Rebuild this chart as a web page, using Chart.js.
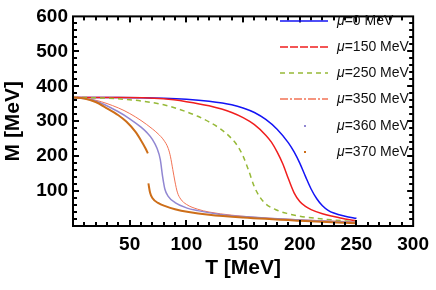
<!DOCTYPE html>
<html>
<head>
<meta charset="utf-8">
<script src="https://cdn.jsdelivr.net/npm/chart.js@4.4.1/dist/chart.umd.min.js"></script>
<style>
  html, body { margin: 0; padding: 0; background: #fff; }
  #wrap { width: 436px; height: 290px; }
</style>
</head>
<body>
<div id="wrap"><canvas id="massChart"></canvas></div>
<script>
// chemical potential labels
const muLabels = ['=0 MeV', '=150 MeV', '=250 MeV', '=350 MeV', '=360 MeV', '=370 MeV'];

// T [MeV] / M [MeV]
const tMu0 = [0, 40, 80, 100, 120, 140, 150, 160, 170, 180, 190, 195, 200, 205, 210, 215, 220, 225, 230, 240, 250];
const mMu0 = [368, 368, 366, 363, 357, 347, 338, 325, 305, 277, 238, 212, 180, 142, 106, 78, 58, 45, 37, 28, 22];

const tMu150 = [0, 40, 80, 100, 120, 140, 150, 160, 170, 175, 180, 185, 190, 195, 200, 205, 210, 220, 230, 240, 250];
const mMu150 = [368, 368, 364, 356, 344, 325, 310, 290, 260, 240, 212, 178, 135, 95, 70, 56, 47, 35, 27, 20, 15];

const tMu250 = [0, 20, 40, 60, 80, 100, 110, 120, 130, 140, 145, 150, 155, 160, 165, 170, 180, 190, 200, 220, 250];
const mMu250 = [368, 367, 364, 358, 347, 327, 314, 298, 278, 250, 230, 200, 158, 112, 82, 63, 45, 35, 28, 20, 12];

const tMu350 = [0, 20, 40, 50, 60, 70, 75, 80, 84, 86, 88, 90, 92, 95, 100, 110, 120, 140, 160, 180, 200, 220, 250];
const mMu350 = [368, 360, 338, 322, 302, 278, 264, 246, 222, 198, 162, 126, 97, 77, 62, 48, 40, 31, 25, 21, 18, 15, 12];

const tMu360 = [0, 20, 40, 50, 60, 65, 70, 74, 77, 79, 81, 84, 90, 100, 110, 130, 150, 200, 250];
const mMu360 = [368, 358, 327, 307, 283, 268, 248, 223, 190, 142, 106, 85, 67, 52, 44, 33, 27, 17, 10];

// jump at T ~ 66 (null = break in the line)
const tMu370 = [0, 10, 20, 30, 40, 47, 55, 60, 64, 66, 66.2, 66.5, 68, 70, 75, 82, 90, 102, 120, 150, 200, 250];
const mMu370 = [368, 365, 355, 337, 317, 299, 270, 245, 222, 208, null, 122, 95, 80, 66, 56, 48, 40, 32, 24, 15, 8];

const xTicks = [50, 100, 150, 200, 250, 300];
const yTicks = [100, 200, 300, 400, 500, 600];

const colors = ['rgb(20,20,245)', 'rgb(240,30,30)', 'rgb(150,185,55)', 'rgb(242,115,85)', 'rgb(145,135,210)', 'rgb(205,110,25)'];
const widths = [1.5, 1.5, 1.5, 1, 1.5, 2];
const dashes = [[], [], [5, 4], [], [], []];
const legendDashes = [[], [8, 2], [5, 4], [8, 2, 2, 2], null, null];

const toPoints = (ts, ms) => ts.map((t, i) => ({ x: t, y: ms[i] }));
const series = [
    toPoints(tMu0, mMu0), toPoints(tMu150, mMu150), toPoints(tMu250, mMu250),
    toPoints(tMu350, mMu350), toPoints(tMu360, mMu360), toPoints(tMu370, mMu370)
];

const fontFam = '"Liberation Sans", Arial, sans-serif';

const framePlugin = {
    id: 'frame',
    afterDraw(chart) {
        const ctx = chart.ctx;
        const a = chart.chartArea;
        const xs = chart.scales.x, ys = chart.scales.y;
        ctx.save();
        ctx.fillStyle = '#000';
        // ticks inside the frame, all four sides
        for (let v = 10; v < 300; v += 10) {
            const px = Math.round(xs.getPixelForValue(v)) - 1;
            const len = v % 50 === 0 ? 6 : 4;
            ctx.fillRect(px, a.bottom - len, 2, len);
            ctx.fillRect(px, a.top, 2, len);
        }
        for (let v = 20; v < 600; v += 20) {
            const py = Math.round(ys.getPixelForValue(v)) - 1;
            const len = v % 100 === 0 ? 6 : 4;
            ctx.fillRect(a.left, py, len, 2);
            ctx.fillRect(a.right - len, py, len, 2);
        }
        ctx.strokeStyle = '#000';
        ctx.setLineDash([]);
        ctx.lineWidth = 2;
        ctx.strokeRect(a.left, a.top, a.right - a.left, a.bottom - a.top);

        // legend
        const rowY = [21, 47, 73, 99, 126, 152];
        muLabels.forEach((lab, i) => {
            const y = rowY[i];
            ctx.strokeStyle = colors[i];
            ctx.fillStyle = colors[i];
            if (legendDashes[i]) {
                ctx.lineWidth = i < 2 ? 1.5 : 1.3;
                ctx.setLineDash(legendDashes[i]);
                ctx.beginPath();
                ctx.moveTo(280, y);
                ctx.lineTo(328, y);
                ctx.stroke();
                ctx.setLineDash([]);
            } else {
                ctx.fillRect(304, y - 1, 2, 2);
            }
            ctx.fillStyle = '#111';
            ctx.textBaseline = 'middle';
            ctx.textAlign = 'left';
            ctx.font = 'italic 14px ' + fontFam;
            ctx.fillText('\u03bc', 337, y);
            const w = ctx.measureText('\u03bc').width;
            ctx.font = '14px ' + fontFam;
            ctx.fillText(lab, 337 + w, y);
        });
        ctx.restore();
    }
};

new Chart(document.getElementById('massChart').getContext('2d'), {
    type: 'line',
    data: {
        datasets: series.map((pts, i) => ({
            label: muLabels[i],
            data: pts,
            borderColor: colors[i],
            borderWidth: widths[i],
            borderDash: dashes[i],
            pointRadius: 0,
            fill: false,
            spanGaps: false,
            cubicInterpolationMode: 'monotone'
        })).reverse()
    },
    options: {
        responsive: true,
        maintainAspectRatio: false,
        animation: false,
        layout: { padding: { top: 13, right: 20, left: 0, bottom: 0 } },
        plugins: {
            legend: { display: false },
            tooltip: { enabled: false }
        },
        scales: {
            x: {
                type: 'linear',
                min: 0,
                max: 300,
                afterFit(scale) { scale.height = 64; },
                afterBuildTicks(scale) { scale.ticks = xTicks.map(v => ({ value: v })); },
                grid: { display: false, drawTicks: false },
                border: { display: false },
                ticks: {
                    padding: 7,
                    color: '#000',
                    font: { family: fontFam, size: 19, weight: 'bold' }
                },
                title: {
                    display: true,
                    text: 'T [MeV]',
                    color: '#000',
                    padding: { top: 0, bottom: 9 },
                    font: { family: fontFam, size: 21, weight: 'bold' }
                }
            },
            y: {
                type: 'linear',
                min: 0,
                max: 600,
                afterFit(scale) { scale.width = 73; },
                afterBuildTicks(scale) { scale.ticks = yTicks.map(v => ({ value: v })); },
                grid: { display: false, drawTicks: false },
                border: { display: false },
                ticks: {
                    padding: 5,
                    color: '#000',
                    font: { family: fontFam, size: 19, weight: 'bold' }
                },
                title: {
                    display: true,
                    text: 'M [MeV]',
                    color: '#000',
                    padding: { top: 1, bottom: 0 },
                    font: { family: fontFam, size: 21, weight: 'bold' }
                }
            }
        }
    },
    plugins: [framePlugin]
});
</script>
</body>
</html>
